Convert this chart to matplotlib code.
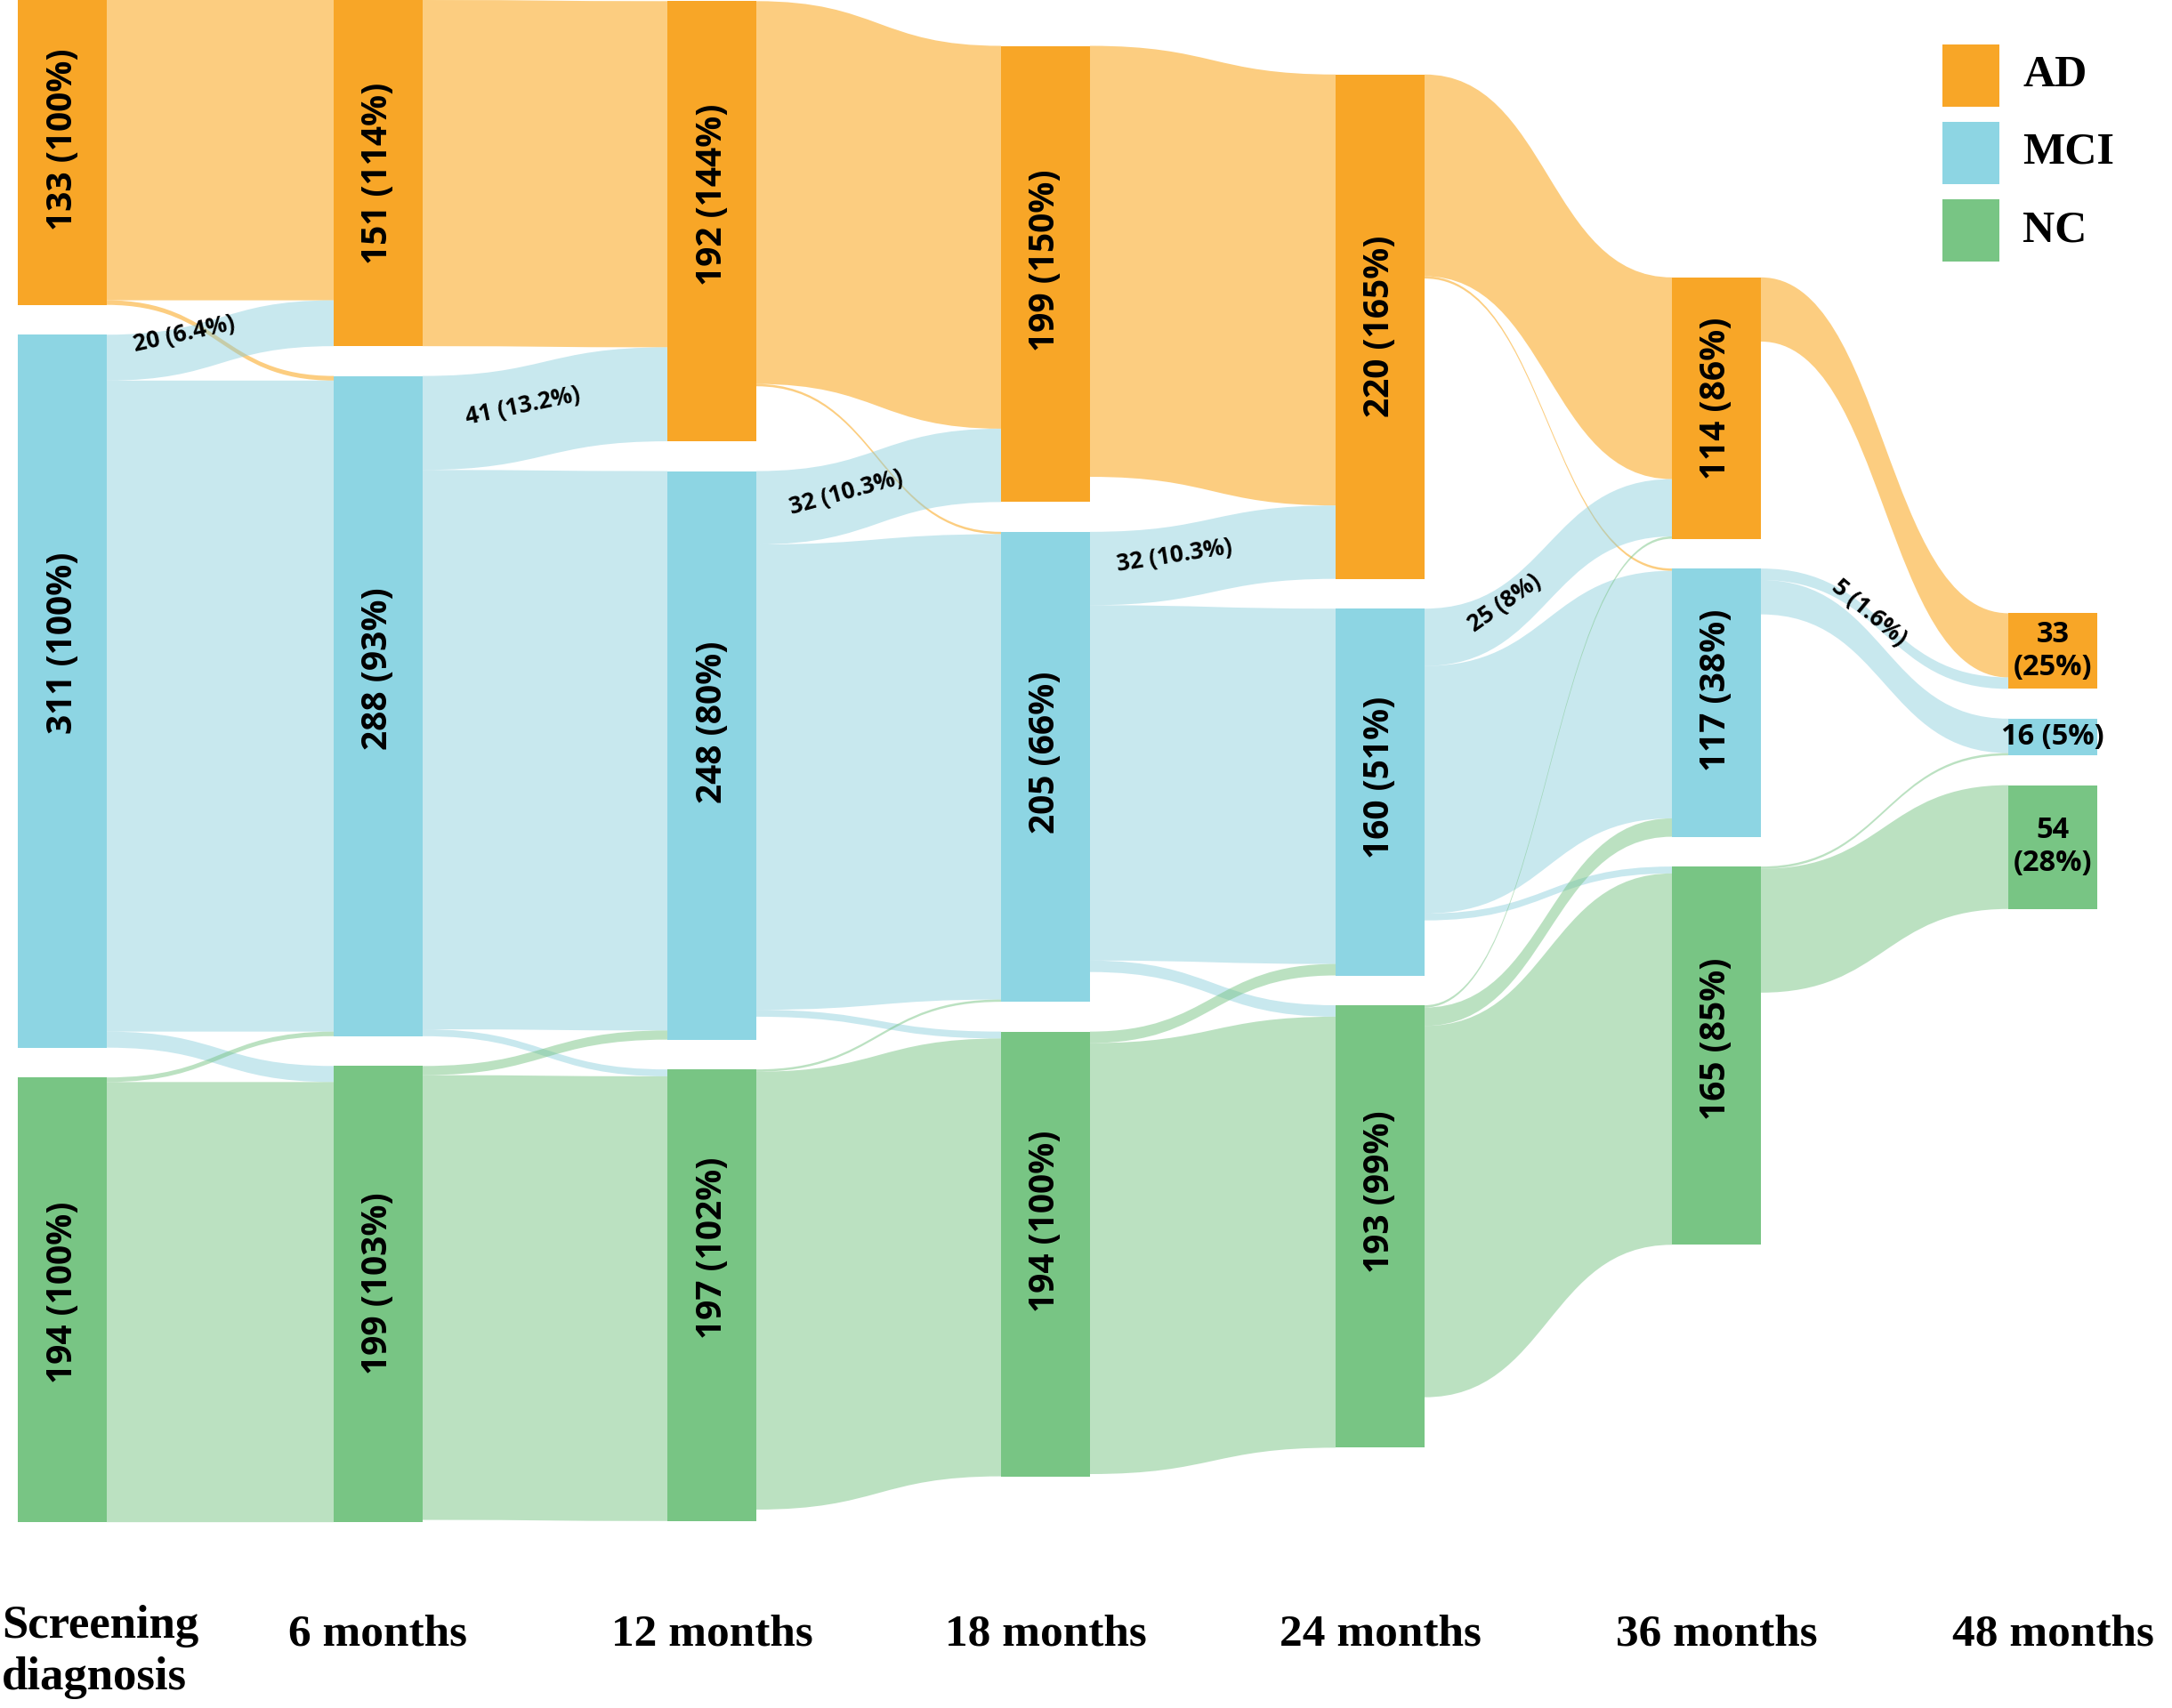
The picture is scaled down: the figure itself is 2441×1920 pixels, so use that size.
import numpy as np
import matplotlib
matplotlib.use("Agg")
import matplotlib.pyplot as plt
from matplotlib.patches import Rectangle, PathPatch
from matplotlib.path import Path

# ---------------- data ----------------
columns = ["Screening\ndiagnosis", "6 months", "12 months", "18 months",
           "24 months", "36 months", "48 months"]
categories = ["AD", "MCI", "NC"]
ad_counts = [133, 151, 192, 199, 220, 114, 33]
mci_counts = [311, 288, 248, 205, 160, 117, 16]
nc_counts = [194, 199, 197, 194, 193, 165, 54]

# transitions: rows = from (AD, MCI, NC), columns = to (AD, MCI, NC)
flow_s_6 = [[131, 2, 0], [20, 284, 7], [0, 2, 192]]
flow_6_12 = [[151, 0, 0], [41, 244, 3], [0, 4, 194]]
flow_12_18 = [[167, 1, 0], [32, 203, 3], [0, 1, 191]]
flow_18_24 = [[188, 0, 0], [32, 155, 5], [0, 5, 188]]
flow_24_36 = [[88, 1, 0], [25, 108, 3], [1, 8, 162]]
flow_36_48 = [[28, 0, 0], [5, 15, 0], [0, 1, 54]]
flows = [flow_s_6, flow_6_12, flow_12_18, flow_18_24, flow_24_36, flow_36_48]

# flows that carry a text label: (transition, from, to)
labelled_flows = [(0, 1, 0), (1, 1, 0), (2, 1, 0), (3, 1, 0), (4, 1, 0), (5, 1, 0)]

# ---------------- style / layout ----------------
W, H = 2441, 1920
PX_PER_UNIT = 2.577
col_x = [70, 425, 800, 1175, 1551, 1929, 2307]
NODE_W = 100
GAP = 13
CENTER = 332
label_t = [0.30, 0.38, 0.33, 0.30, 0.28, 0.42]
label_lift_px = [18, 9, 5, 8, 11, 3]          # upward nudge of flow labels (px)
# upward nudge of node labels (px), rows AD/MCI/NC, one per column
node_lift_px = [[15, 0, 30, 15, 0, 11, 0],
                [54, 42, 37, 16, 16, 14, 0],
                [8, 12, 53, 37, 39, 19, 0]]

node_colors = ["#F8A627", "#8DD5E3", "#78C584"]
link_colors = [(0.98, 0.68, 0.17, 0.6), (0.52, 0.80, 0.86, 0.45), (0.47, 0.77, 0.52, 0.5)]

label_font = "Open Sans"
title_font = "Liberation Serif"

fig = plt.figure(figsize=(W / 100, H / 100), dpi=100)
ax = fig.add_axes([0, 0, 1, 1])
ax.set_xlim(0, W)
ax.set_ylim(H / PX_PER_UNIT, 0)
ax.axis("off")

counts = np.array([ad_counts, mci_counts, nc_counts], dtype=float)
baseline = counts[:, 0]
ncol = counts.shape[1]
tops = np.zeros_like(counts)
for j in range(ncol):
    total = counts[:, j].sum() + 2 * GAP
    y = CENTER - total / 2
    for i in range(3):
        tops[i, j] = y
        y += counts[i, j] + GAP


def bez(p0, p1, p2, p3, t):
    return ((1 - t) ** 3) * p0 + 3 * ((1 - t) ** 2) * t * p1 + 3 * (1 - t) * t * t * p2 + t ** 3 * p3


link_geom = {}
for t, F in enumerate(flows):
    F = np.array(F, dtype=float)
    s_start = np.zeros((3, 3))
    t_start = np.zeros((3, 3))
    for i in range(3):
        y = tops[i, t]
        for j in range(3):
            s_start[i, j] = y
            y += F[i, j]
    for j in range(3):
        y = tops[j, t + 1]
        for i in range(3):
            t_start[i, j] = y
            y += F[i, j]
    x0 = col_x[t] + NODE_W / 2
    x1 = col_x[t + 1] - NODE_W / 2
    xm = (x0 + x1) / 2
    for i in range(3):
        for j in range(3):
            v = F[i, j]
            if v <= 0:
                continue
            ya0, yb0 = s_start[i, j], s_start[i, j] + v
            ya1, yb1 = t_start[i, j], t_start[i, j] + v
            verts = [(x0, ya0), (xm, ya0), (xm, ya1), (x1, ya1), (x1, yb1),
                     (xm, yb1), (xm, yb0), (x0, yb0), (x0, ya0)]
            codes = [Path.MOVETO, Path.CURVE4, Path.CURVE4, Path.CURVE4, Path.LINETO,
                     Path.CURVE4, Path.CURVE4, Path.CURVE4, Path.CLOSEPOLY]
            ax.add_patch(PathPatch(Path(verts, codes), facecolor=link_colors[i],
                                   edgecolor="none", lw=0, zorder=1))
            link_geom[(t, i, j)] = (x0, xm, x1, ya0 + v / 2, ya1 + v / 2, v)

# nodes
for j in range(ncol):
    for i in range(3):
        ax.add_patch(Rectangle((col_x[j] - NODE_W / 2, tops[i, j]), NODE_W, counts[i, j],
                               facecolor=node_colors[i], edgecolor="none", zorder=3))
        c = int(counts[i, j])
        pct = int(round(c / baseline[i] * 100))
        yc = tops[i, j] + counts[i, j] / 2 - node_lift_px[i][j] / PX_PER_UNIT
        if j < ncol - 1:
            ax.text(col_x[j], yc, f"{c} ({pct}%)", rotation=90, ha="center", va="center",
                    fontsize=28, fontweight="bold", family=label_font, color="black", zorder=4)
        else:
            txt = f"{c}\n({pct}%)" if c >= 25 else f"{c} ({pct}%)"
            ax.text(col_x[j], yc, txt, ha="center", va="center", linespacing=1.15,
                    fontsize=23.5, fontweight="bold", family=label_font, color="black", zorder=4)

# flow labels
fig.canvas.draw()
for k, key in enumerate(labelled_flows):
    x0, xm, x1, yc0, yc1, v = link_geom[key]
    tt = label_t[k]
    px = bez(x0, xm, xm, x1, tt)
    py = bez(yc0, yc0, yc1, yc1, tt) - label_lift_px[k] / PX_PER_UNIT
    pa = ax.transData.transform((bez(x0, xm, xm, x1, tt - 0.01), bez(yc0, yc0, yc1, yc1, tt - 0.01)))
    pb = ax.transData.transform((bez(x0, xm, xm, x1, tt + 0.01), bez(yc0, yc0, yc1, yc1, tt + 0.01)))
    ang = np.degrees(np.arctan2(pb[1] - pa[1], pb[0] - pa[0]))
    src = key[1]
    p = f"{v / baseline[src] * 100:.1f}".rstrip("0").rstrip(".")
    ax.text(px, py, f"{int(v)} ({p}%)", rotation=ang, rotation_mode="anchor",
            ha="center", va="center", fontsize=19, fontweight="bold",
            family=label_font, color="black", zorder=5)

# column titles
for j, name in enumerate(columns):
    if j == 0:
        fig.text(2 / W, 1 - 1857 / H, name, ha="left", va="center", fontsize=38,
                 fontweight="bold", family=title_font, linespacing=1.25)
    else:
        fig.text(col_x[j] / W, 1 - 1837 / H, name, ha="center", va="center", fontsize=37,
                 fontweight="bold", family=title_font)

# legend
leg_y = [50, 137, 224]
for i, cat in enumerate(categories):
    fig.add_artist(Rectangle((2183 / W, 1 - (leg_y[i] + 70) / H), 64 / W, 70 / H,
                             transform=fig.transFigure, facecolor=node_colors[i], edgecolor="none"))
    fig.text(2273 / W, 1 - (leg_y[i] + 35) / H, cat, ha="left", va="center", fontsize=36,
             fontweight="bold", family=title_font)

fig.savefig("out.png", dpi=100, facecolor="white")
